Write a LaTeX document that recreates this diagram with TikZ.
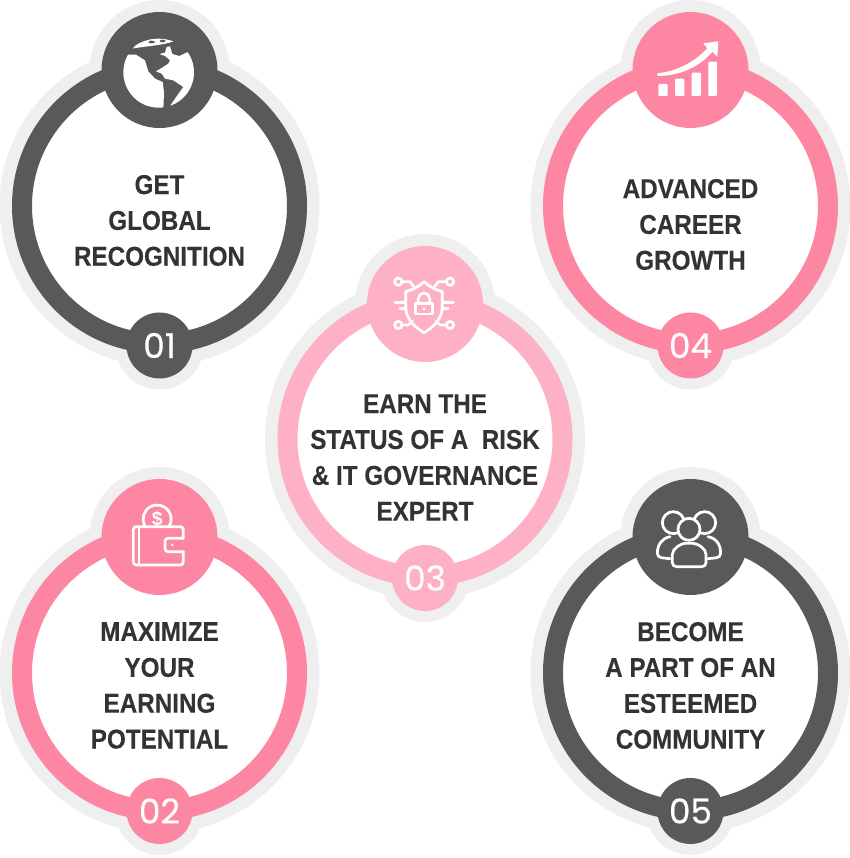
\documentclass[tikz,border=0pt]{standalone}
\usepackage{fontspec}
\setmainfont{Liberation Sans}
\newfontfamily\ringfont[FakeStretch=.89,FakeBold=.25]{Liberation Sans}
\newfontfamily\numfont[FakeBold=.4]{Poppins}
\definecolor{darkc}{HTML}{595959}
\definecolor{pinkc}{HTML}{FD86A2}
\definecolor{lightc}{HTML}{FEB0C5}
\definecolor{haloc}{HTML}{EFEFEF}
\definecolor{textc}{HTML}{333333}

\tikzstyle{halo} = [circle, fill=haloc, inner sep=0pt, minimum size=6.4cm]
\tikzstyle{haloi} = [circle, fill=haloc, inner sep=0pt, minimum size=2.8cm]
\tikzstyle{halon} = [circle, fill=haloc, inner sep=0pt, minimum size=1.76cm]
\tikzstyle{ring} = [circle, draw, fill=white, line width=.4cm, inner sep=0pt, minimum size=5.5cm]
\tikzstyle{icon} = [circle, inner sep=0pt, minimum size=2.32cm]
\tikzstyle{num} = [circle, inner sep=0pt, minimum size=1.32cm, text=white,
    font=\numfont\fontsize{19.5}{20}\selectfont]
\tikzstyle{ringtext} = [text=textc, align=center, inner sep=0pt,
    font=\ringfont\bfseries\fontsize{15.5}{20.4}\selectfont]
\tikzstyle{glyph} = [draw=white, line width=.55mm, line join=round, line cap=round]

\begin{document}
\begin{tikzpicture}
	\useasboundingbox (0,0) rectangle (17,17.16);
	\clip (0,0) rectangle (17,17.16);
	\fill [white] (0,0) rectangle (17,17.16);
	% halos
	\node [halo] (ha) at (3.19,13.04) {};
	\node [haloi] (hai) at (3.19,15.76) {};
	\node [halon] (han) at (3.19,10.25) {};
	%
	\node [halo] (hb) at (3.19,3.70) {};
	\node [haloi] (hbi) at (3.19,6.42) {};
	\node [halon] (hbn) at (3.19,.94) {};
	%
	\node [halo] (hc) at (8.5,8.38) {};
	\node [haloi] (hci) at (8.5,11.08) {};
	\node [halon] (hcn) at (8.5,5.60) {};
	%
	\node [halo] (hd) at (13.81,13.04) {};
	\node [haloi] (hdi) at (13.81,15.76) {};
	\node [halon] (hdn) at (13.81,10.25) {};
	%
	\node [halo] (he) at (13.81,3.70) {};
	\node [haloi] (hei) at (13.81,6.42) {};
	\node [halon] (hen) at (13.81,.94) {};
	% rings
	\node [ring, draw=darkc] (ra) at (3.19,13.04) {};
	\node [icon, fill=darkc] (ia) at (3.19,15.76) {};
	\node [num, fill=darkc] (na) at (3.19,10.25) {01};
	\node [ringtext] (ta) at (3.19,12.75) {GET\\GLOBAL\\RECOGNITION};
	%
	\node [ring, draw=pinkc] (rb) at (3.19,3.70) {};
	\node [icon, fill=pinkc] (ib) at (3.19,6.42) {};
	\node [num, fill=pinkc] (nb) at (3.19,.94) {02};
	\node [ringtext] (tb) at (3.19,3.45) {MAXIMIZE\\YOUR\\EARNING\\POTENTIAL};
	%
	\node [ring, draw=lightc] (rc) at (8.5,8.38) {};
	\node [icon, fill=lightc] (ic) at (8.5,11.08) {};
	\node [num, fill=lightc] (nc) at (8.5,5.60) {03};
	\node [ringtext] (tc) at (8.5,8.01) {EARN THE\\STATUS OF A\ \ RISK\\\& IT GOVERNANCE\\EXPERT};
	%
	\node [ring, draw=pinkc] (rd) at (13.81,13.04) {};
	\node [icon, fill=pinkc] (id) at (13.81,15.76) {};
	\node [num, fill=pinkc] (nd) at (13.81,10.25) {04};
	\node [ringtext] (td) at (13.81,12.67) {ADVANCED\\CAREER\\GROWTH};
	%
	\node [ring, draw=darkc] (re) at (13.81,3.70) {};
	\node [icon, fill=darkc] (ie) at (13.81,6.42) {};
	\node [num, fill=darkc] (ne) at (13.81,.94) {05};
	\node [ringtext] (te) at (13.81,3.45) {BECOME\\A PART OF AN\\ESTEEMED\\COMMUNITY};
	% globe
	\begin{scope}[shift={(2.4,16.52)},x=.06667mm,y=-.06667mm]
		\clip (116,121) circle (106);
		\fill [white] (30,68) -- (48,68) -- (75,85) -- (85,118) -- (105,140) -- (128,150)
			-- (132,180) -- (130,235) -- (0,235) -- (0,68) -- cycle;
		\fill [white] (118,66) -- (135,62) -- (140,45) -- (150,43) -- (157,66) -- (178,72)
			-- (208,58) -- (235,60) -- (235,235) -- (140,235) -- (150,222) -- (172,190)
			-- (190,165) -- (160,145) -- (135,140) -- (125,125) -- (108,118) -- (125,108)
			-- (145,95) -- (150,85) -- (135,72) -- cycle;
		\fill [white] (35,50) .. controls (60,25) and (110,10) .. (160,28)
			.. controls (130,40) and (80,42) .. cycle;
		\fill [darkc] (95,30) ellipse (10 and 4);
		\fill [darkc] (128,27) ellipse (9 and 4);
	\end{scope}
	% chart
	\begin{scope}[shift={(12.4,17.16)},x=.06667mm,y=-.06667mm]
		\fill [white, rounded corners=.2mm] (115,252) rectangle (143,288);
		\fill [white, rounded corners=.2mm] (165,236) rectangle (193,288);
		\fill [white, rounded corners=.2mm] (215,218) rectangle (243,288);
		\fill [white, rounded corners=.2mm] (265,185) rectangle (291,288);
		\fill [white] (112,220) .. controls (170,215) and (225,185) .. (262,145) -- (250,130)
			-- (295,124) -- (292,170) -- (277,155) .. controls (240,200) and (180,228) .. (112,228) -- cycle;
	\end{scope}
	% shield
	\begin{scope}[shift={(7.1,12.36)},x=.06667mm,y=-.06667mm]
		\draw [glyph] (207,125) .. controls (185,145) and (170,150) .. (152,155) -- (152,200)
			.. controls (152,240) and (185,265) .. (207,278) .. controls (230,265) and (262,240) .. (262,200)
			-- (262,155) .. controls (245,150) and (230,145) .. (207,125) -- cycle;
		\draw [glyph] (182,190) rectangle (232,222);
		\draw [glyph] (190,190) -- (190,176) arc (180:360:17) -- (224,190);
		\fill [white] (207,207) circle (5);
		\draw [glyph] (130,125) circle (11);
		\draw [glyph] (285,125) circle (11);
		\draw [glyph] (130,255) circle (11);
		\draw [glyph] (285,255) circle (11);
		\draw [glyph] (141,125) -- (165,125) -- (178,142);
		\draw [glyph] (274,125) -- (250,125) -- (237,142);
		\draw [glyph] (141,255) -- (160,255) -- (172,243);
		\draw [glyph] (274,255) -- (255,255) -- (243,243);
		\draw [glyph] (120,188) -- (152,188);
		\draw [glyph] (135,205) -- (152,205);
		\draw [glyph] (262,188) -- (295,188);
		\draw [glyph] (262,205) -- (280,205);
	\end{scope}
	% wallet
	\begin{scope}[shift={(1.8,7.76)},x=.06667mm,y=-.06667mm]
		\draw [glyph, rounded corners=.6mm] (280,205) -- (280,170) -- (130,170) -- (130,285) -- (280,285) -- (280,245);
		\draw [glyph] (147,172) -- (147,283);
		\draw [glyph, rounded corners=.6mm] (280,205) -- (225,205) -- (225,245) -- (280,245);
		\fill [white] (247,225) circle (4);
		\draw [glyph] (165,168) arc (150:390:42);
		\node [text=white, font=\bfseries\fontsize{11}{11}\selectfont, inner sep=0pt] (dollar) at (202,146) {\$};
	\end{scope}
	% people
	\begin{scope}[shift={(12.4,7.76)},x=.06667mm,y=-.06667mm]
		\draw [glyph, fill=darkc] (160,158) circle (33);
		\draw [glyph, fill=darkc] (254,158) circle (33);
		\draw [glyph, rounded corners=.8mm] (150,200) .. controls (125,205) and (112,225) .. (112,262) -- (150,266);
		\draw [glyph, rounded corners=.8mm] (264,200) .. controls (290,205) and (302,225) .. (302,262) -- (264,266);
		\draw [glyph, fill=darkc] (207,178) circle (33);
		\draw [glyph, fill=darkc, rounded corners=.8mm] (157,290) -- (157,265)
			.. controls (157,235) and (185,220) .. (207,220) .. controls (232,220) and (258,235) .. (258,265)
			-- (258,290) -- cycle;
	\end{scope}
\end{tikzpicture}
\end{document}
